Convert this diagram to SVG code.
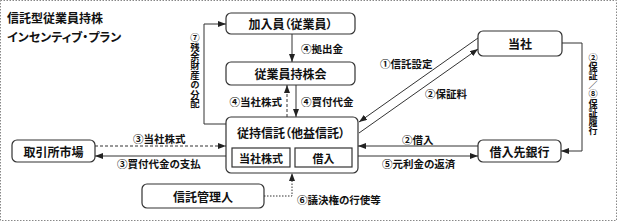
<svg xmlns="http://www.w3.org/2000/svg" width="618" height="222" viewBox="0 0 618 222">
<style>
text{font-family:"Noto Sans CJK JP","Noto Sans",sans-serif;fill:#111;font-feature-settings:"palt"}
.t{font-size:12px;font-weight:bold}
.n{font-size:12px;font-weight:bold;text-anchor:middle;dominant-baseline:central}
.s{font-size:11px;font-weight:bold;text-anchor:middle;dominant-baseline:central}
.l{font-size:10.5px;font-weight:bold;dominant-baseline:central}
.v{font-weight:bold;writing-mode:vertical-rl;font-feature-settings:normal}
.box{fill:#fff;stroke:#333;stroke-width:1.2}
.ib{fill:#fff;stroke:#333;stroke-width:1.2}
.c{fill:none;stroke:#333;stroke-width:1}
.d{stroke-dasharray:3,2}
.o{stroke-dasharray:1.5,1.5}
</style>
<defs>
<marker id="a" viewBox="0 0 8 6" refX="8" refY="3" markerWidth="8" markerHeight="6" markerUnits="userSpaceOnUse" orient="auto"><path d="M0,0L8,3L0,6z" fill="#222"/></marker>
</defs>
<rect x="0.5" y="0.5" width="616" height="220" fill="#fff" stroke="#888" stroke-dasharray="1.5,1.5"/>
<text class="t" x="7" y="23">信託型従業員持株</text>
<text class="t" x="7" y="42">インセンティブ・プラン</text>
<g id="connectors">
<path class="c" d="M292,34V62" marker-end="url(#a)"/>
<path class="c d" d="M287,117V85" marker-end="url(#a)"/>
<path class="c" d="M296,85V117" marker-end="url(#a)"/>
<path class="c" d="M226,124H204V24H226" marker-end="url(#a)"/>
<path class="c" d="M478,38L359,122" marker-end="url(#a)"/>
<path class="c" d="M359,133L478,49" marker-end="url(#a)"/>
<path class="c" d="M562,43H582V151H561" marker-end="url(#a)"/>
<path class="c" d="M478,146H358" marker-end="url(#a)"/>
<path class="c" d="M358,156H478" marker-end="url(#a)"/>
<path class="c d" d="M95,146H226" marker-end="url(#a)"/>
<path class="c" d="M226,156H95" marker-end="url(#a)"/>
<path class="c o" d="M264,196H292V173" marker-end="url(#a)"/>
<text class="l" x="301" y="48">④拠出金</text>
<text class="l" x="282" y="101" text-anchor="end">④当社株式</text>
<text class="l" x="301" y="101">④買付代金</text>
<text class="l" x="380" y="63">①信託設定</text>
<text class="l" x="425" y="93">②保証料</text>
<text class="l" x="402" y="139">②借入</text>
<text class="l" x="382" y="163">⑤元利金の返済</text>
<text class="l" x="133" y="138">③当社株式</text>
<text class="l" x="117" y="163">③買付代金の支払</text>
<text class="l" x="297" y="199">⑥議決権の行使等</text>
<text class="v" x="195" y="33" font-size="9.4">⑦残余財産の分配</text>
<text class="v" x="593" y="53" font-size="9.1">②保証／⑧保証履行</text>
</g>
<g id="member"><rect class="box" x="226" y="13" width="129" height="21" rx="5"/><text class="n" x="290.5" y="23.5">加入員（従業員）</text></g>
<g id="esop"><rect class="box" x="226" y="62" width="129" height="23" rx="5"/><text class="n" x="290.5" y="73.5">従業員持株会</text></g>
<g id="company"><rect class="box" x="478" y="31" width="84" height="25" rx="5"/><text class="n" x="520" y="43.5">当社</text></g>
<g id="trust"><rect class="box" x="226" y="117" width="132" height="56" rx="5"/><text class="n" x="291" y="132.5">従持信託（他益信託）</text>
<rect class="ib" x="232" y="148" width="58" height="19"/><text class="s" x="261" y="157.5">当社株式</text>
<rect class="ib" x="295" y="148" width="57" height="19"/><text class="s" x="323.5" y="157.5">借入</text></g>
<g id="bank"><rect class="box" x="478" y="140" width="83" height="22" rx="5"/><text class="n" x="519.5" y="151">借入先銀行</text></g>
<g id="exchange"><rect class="box" x="12" y="140" width="83" height="22" rx="5"/><text class="n" x="53.5" y="151">取引所市場</text></g>
<g id="trustee"><rect class="box" x="142" y="184" width="122" height="24" rx="5"/><text class="n" x="203" y="196">信託管理人</text></g>
</svg>
